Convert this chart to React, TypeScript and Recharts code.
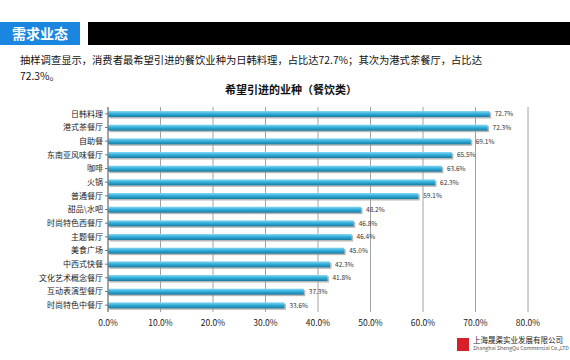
import React from "react";
import { BarChart, Bar, XAxis, YAxis, CartesianGrid, LabelList } from "recharts";

const categories = [
  "日韩料理",
  "港式茶餐厅",
  "自助餐",
  "东南亚风味餐厅",
  "咖啡",
  "火锅",
  "普通餐厅",
  "甜品\\水吧",
  "时尚特色西餐厅",
  "主题餐厅",
  "美食广场",
  "中西式快餐",
  "文化艺术概念餐厅",
  "互动表演型餐厅",
  "时尚特色中餐厅",
];
const values = [72.7, 72.3, 69.1, 65.5, 63.6, 62.3, 59.1, 48.2, 46.8, 46.4, 45.0, 42.3, 41.8, 37.3, 33.6];
const xTicks = [0, 10, 20, 30, 40, 50, 60, 70, 80];

const data = categories.map((name, i) => ({ name, value: values[i] }));

const FONT = "'Noto Sans CJK SC', 'Noto Sans', sans-serif";

const BarShape = (props: any) => {
  const { x, y, width, height } = props;
  if (!width || width <= 0) return null;
  return (
    <g>
      <rect x={x + 1.5} y={y + 1.5} width={width} height={height} fill="#9a9a9a" opacity={0.7} />
      <rect x={x} y={y} width={width} height={height} fill="url(#barGrad)" />
    </g>
  );
};

export default function App() {
  return (
    <div
      style={{
        position: "fixed",
        left: 0,
        top: 0,
        width: 570,
        height: 360,
        background: "#fff",
        fontFamily: FONT,
        overflow: "hidden",
      }}
    >
      <div
        style={{
          position: "absolute",
          left: 0,
          top: 22,
          width: 80,
          height: 23,
          background: "#1a86e0",
          color: "#fff",
          fontWeight: 700,
          fontSize: 14,
          lineHeight: "23px",
          paddingLeft: 12,
          boxSizing: "border-box",
        }}
      >
        需求业态
      </div>
      <div
        style={{
          position: "absolute",
          left: 88,
          top: 22,
          width: 482,
          height: 23,
          background: "#000",
        }}
      />
      <div
        style={{
          position: "absolute",
          left: 20,
          top: 52,
          fontSize: 10.3,
          lineHeight: "16px",
          color: "#111",
          whiteSpace: "nowrap",
        }}
      >
        <div>抽样调查显示，消费者最希望引进的餐饮业种为日韩料理，占比达72.7%；其次为港式茶餐厅，占比达</div>
        <div>72.3%。</div>
      </div>
      <div
        style={{
          position: "absolute",
          left: 0,
          width: 570,
          top: 81,
          textAlign: "center",
          fontSize: 11,
          fontWeight: 700,
          color: "#111",
        }}
      >
        <span style={{ marginLeft: 12 }}>希望引进的业种（餐饮类）</span>
      </div>
      <div style={{ position: "absolute", left: 0, top: 0 }}>
        <BarChart
          width={570}
          height={360}
          data={data}
          layout="vertical"
          margin={{ top: 107, right: 42, bottom: 28, left: 0 }}
          barCategoryGap={0}
        >
          <defs>
            <linearGradient id="barGrad" x1="0" y1="0" x2="0" y2="1">
              <stop offset="0%" stopColor="#8ad8f2" />
              <stop offset="45%" stopColor="#33b0dc" />
              <stop offset="100%" stopColor="#167ba3" />
            </linearGradient>
          </defs>
          <CartesianGrid horizontal={false} vertical={true} stroke="#8a8a8a" strokeWidth={0.8} />
          <XAxis
            type="number"
            domain={[0, 80]}
            ticks={xTicks}
            axisLine={false}
            tickLine={false}
            height={20}
            tick={{ fontSize: 8.5, fill: "#222", fontFamily: FONT }}
            tickFormatter={(v: number) => `${v.toFixed(1)}%`}
          />
          <YAxis
            type="category"
            dataKey="name"
            width={108}
            axisLine={{ stroke: "#777" }}
            tickLine={{ stroke: "#777" }}
            tickSize={3}
            interval={0}
            tick={{ fontSize: 8, fill: "#222", fontFamily: FONT }}
          />
          <Bar dataKey="value" barSize={6} shape={<BarShape />} isAnimationActive={false}>
            <LabelList
              dataKey="value"
              position="right"
              offset={5}
              formatter={(v: number) => `${v.toFixed(1)}%`}
              style={{ fontSize: 6.5, fill: "#333", fontFamily: FONT }}
            />
          </Bar>
        </BarChart>
      </div>
      <div style={{ position: "absolute", left: 457, top: 336, display: "flex", alignItems: "center" }}>
        <div style={{ width: 12, height: 13, background: "#d61f26", marginRight: 4 }} />
        <div style={{ lineHeight: "8px" }}>
          <div style={{ fontSize: 7.5, color: "#222", whiteSpace: "nowrap" }}>上海晟渠实业发展有限公司</div>
          <div style={{ fontSize: 5.2, color: "#555", whiteSpace: "nowrap" }}>Shanghai ShengQu Commercial Co.,LTD</div>
        </div>
      </div>
    </div>
  );
}
